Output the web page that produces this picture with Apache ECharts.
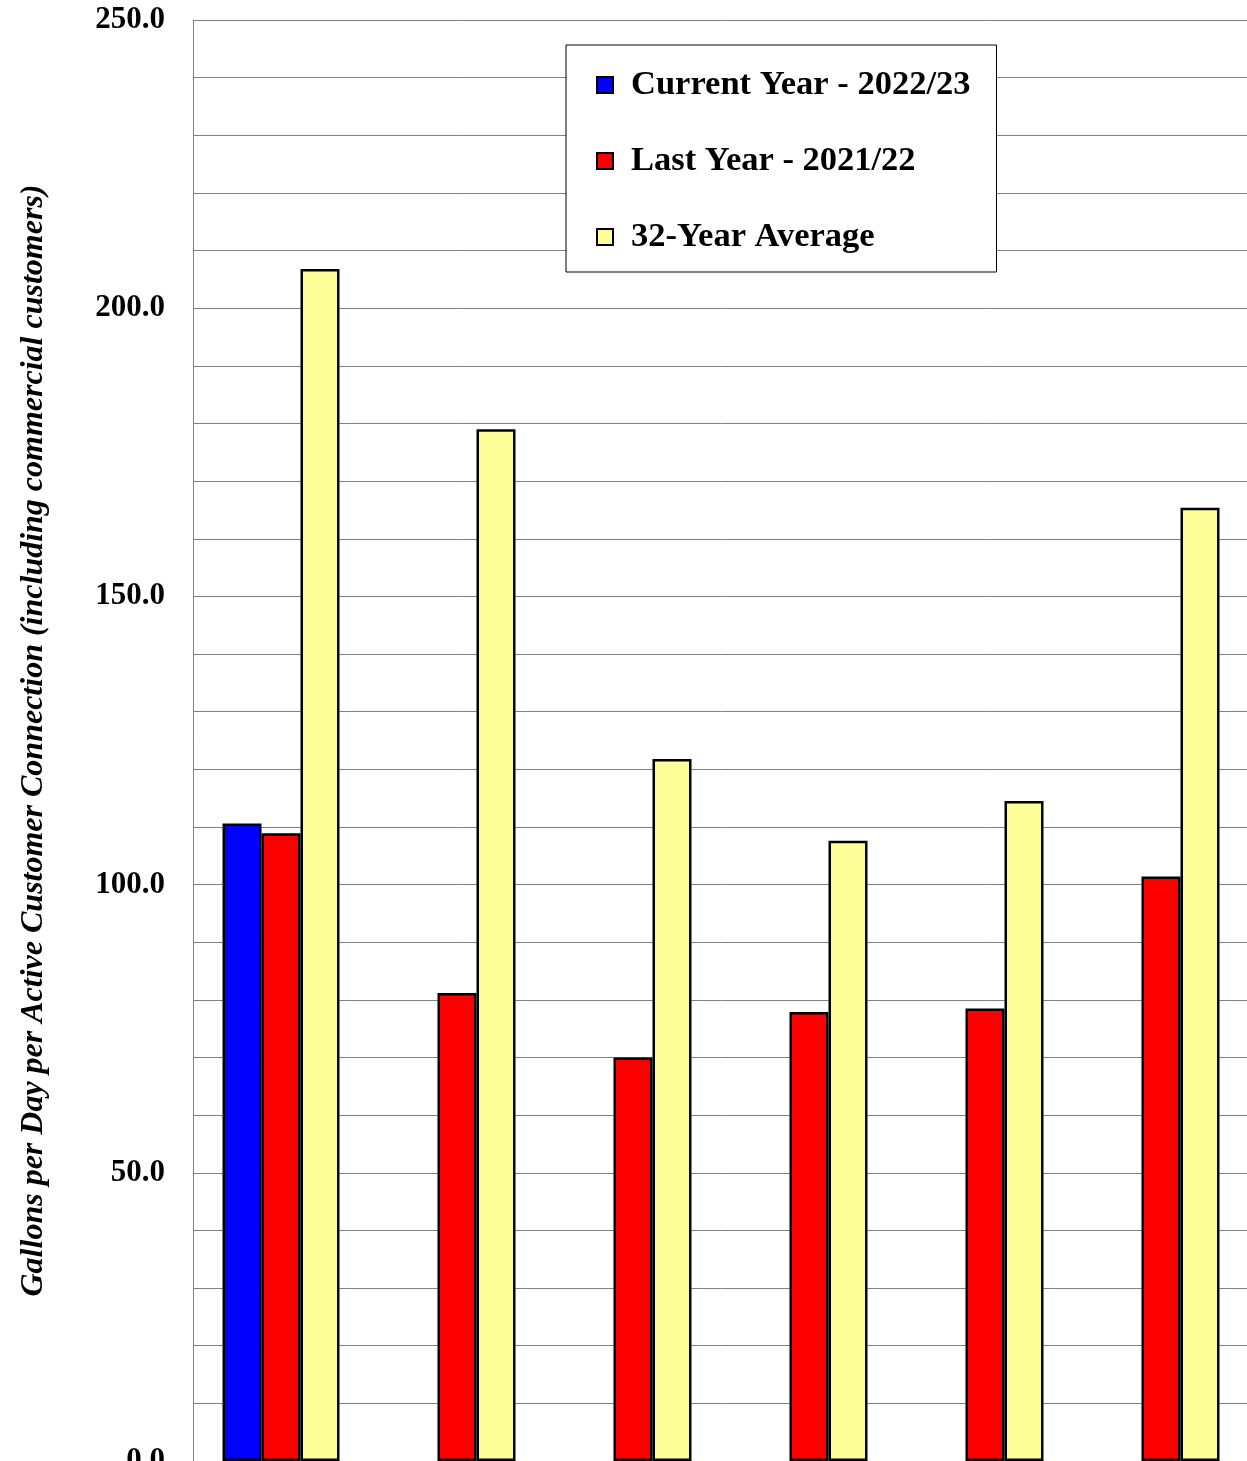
<!DOCTYPE html>
<html>
<head>
<meta charset="utf-8">
<title>Gallons per Day per Active Customer Connection</title>
<script src="https://cdn.jsdelivr.net/npm/echarts@6/dist/echarts.min.js"></script>
<style>
  html, body { margin: 0; padding: 0; background: #ffffff; }
  #chart { width: 1247px; height: 1461px; }
</style>
</head>
<body>
<div id="chart"></div>
<script>
// Monthly groups (labels sit below the visible area)
const categories = ['M1', 'M2', 'M3', 'M4', 'M5', 'M6'];

// Series values, gallons per day per active connection
const currentYear = [110.6, null, null, null, null, null];
const lastYear    = [108.9, 81.2, 70.0, 77.9, 78.5, 101.4];
const average32   = [206.8, 179.0, 121.8, 107.6, 114.5, 165.4];

const seriesNames = ['Current Year - 2022/23', 'Last Year - 2021/22', '32-Year Average'];

// Value axis: gridlines every 10, labels every 50
const yMin = 0, yMax = 250, yStep = 10, yLabelStep = 50;

const serif = '"Liberation Serif", "Times New Roman", Times, serif';

const chart = echarts.init(document.getElementById('chart'), null, { renderer: 'canvas' });

function barSeries(name, data, color) {
  return {
    name: name,
    type: 'bar',
    data: data,
    barWidth: 39,
    barGap: '0%',
    itemStyle: { color: color, borderColor: '#000000', borderWidth: 2.5 },
    emphasis: { disabled: true }
  };
}

chart.setOption({
  animation: false,
  backgroundColor: '#ffffff',
  grid: {
    left: 193, top: 20, width: 1056, bottom: 0,
    containLabel: false,
    outerBoundsMode: 'none'
  },
  legend: {
    orient: 'vertical',
    left: 566,
    top: 45,
    padding: [22, 26, 17, 30],
    itemGap: 40,
    itemWidth: 16,
    itemHeight: 16,
    icon: 'rect',
    backgroundColor: '#ffffff',
    borderColor: '#000000',
    borderWidth: 1,
    itemStyle: { borderColor: '#000000', borderWidth: 2 },
    textStyle: {
      fontFamily: serif,
      fontSize: 34.5,
      fontWeight: 'bold',
      color: '#000000',
      lineHeight: 36,
      padding: [0, 0, 0, 13]
    },
    data: seriesNames
  },
  xAxis: {
    type: 'category',
    data: categories,
    axisLine: { show: false },
    axisTick: { show: false },
    axisLabel: { show: false },
    splitLine: { show: false }
  },
  yAxis: {
    type: 'value',
    min: yMin,
    max: yMax,
    interval: yStep,
    name: 'Gallons per Day per Active Customer Connection (including commercial customers)',
    nameLocation: 'middle',
    nameGap: 143,
    nameTextStyle: {
      fontFamily: serif,
      fontSize: 32,
      fontWeight: 'bold',
      fontStyle: 'italic',
      color: '#000000'
    },
    axisLine: { show: true, lineStyle: { color: '#808080', width: 1 } },
    axisTick: { show: false },
    axisLabel: {
      margin: 28,
      fontFamily: serif,
      fontSize: 31,
      fontWeight: 'bold',
      color: '#000000',
      formatter: function (v) {
        return (Math.round(v) % yLabelStep === 0) ? v.toFixed(1) : '';
      }
    },
    splitLine: { show: true, lineStyle: { color: '#808080', width: 1 } }
  },
  series: [
    barSeries(seriesNames[0], currentYear, '#0000ff'),
    barSeries(seriesNames[1], lastYear, '#ff0000'),
    barSeries(seriesNames[2], average32, '#ffff99')
  ]
});
</script>
</body>
</html>
